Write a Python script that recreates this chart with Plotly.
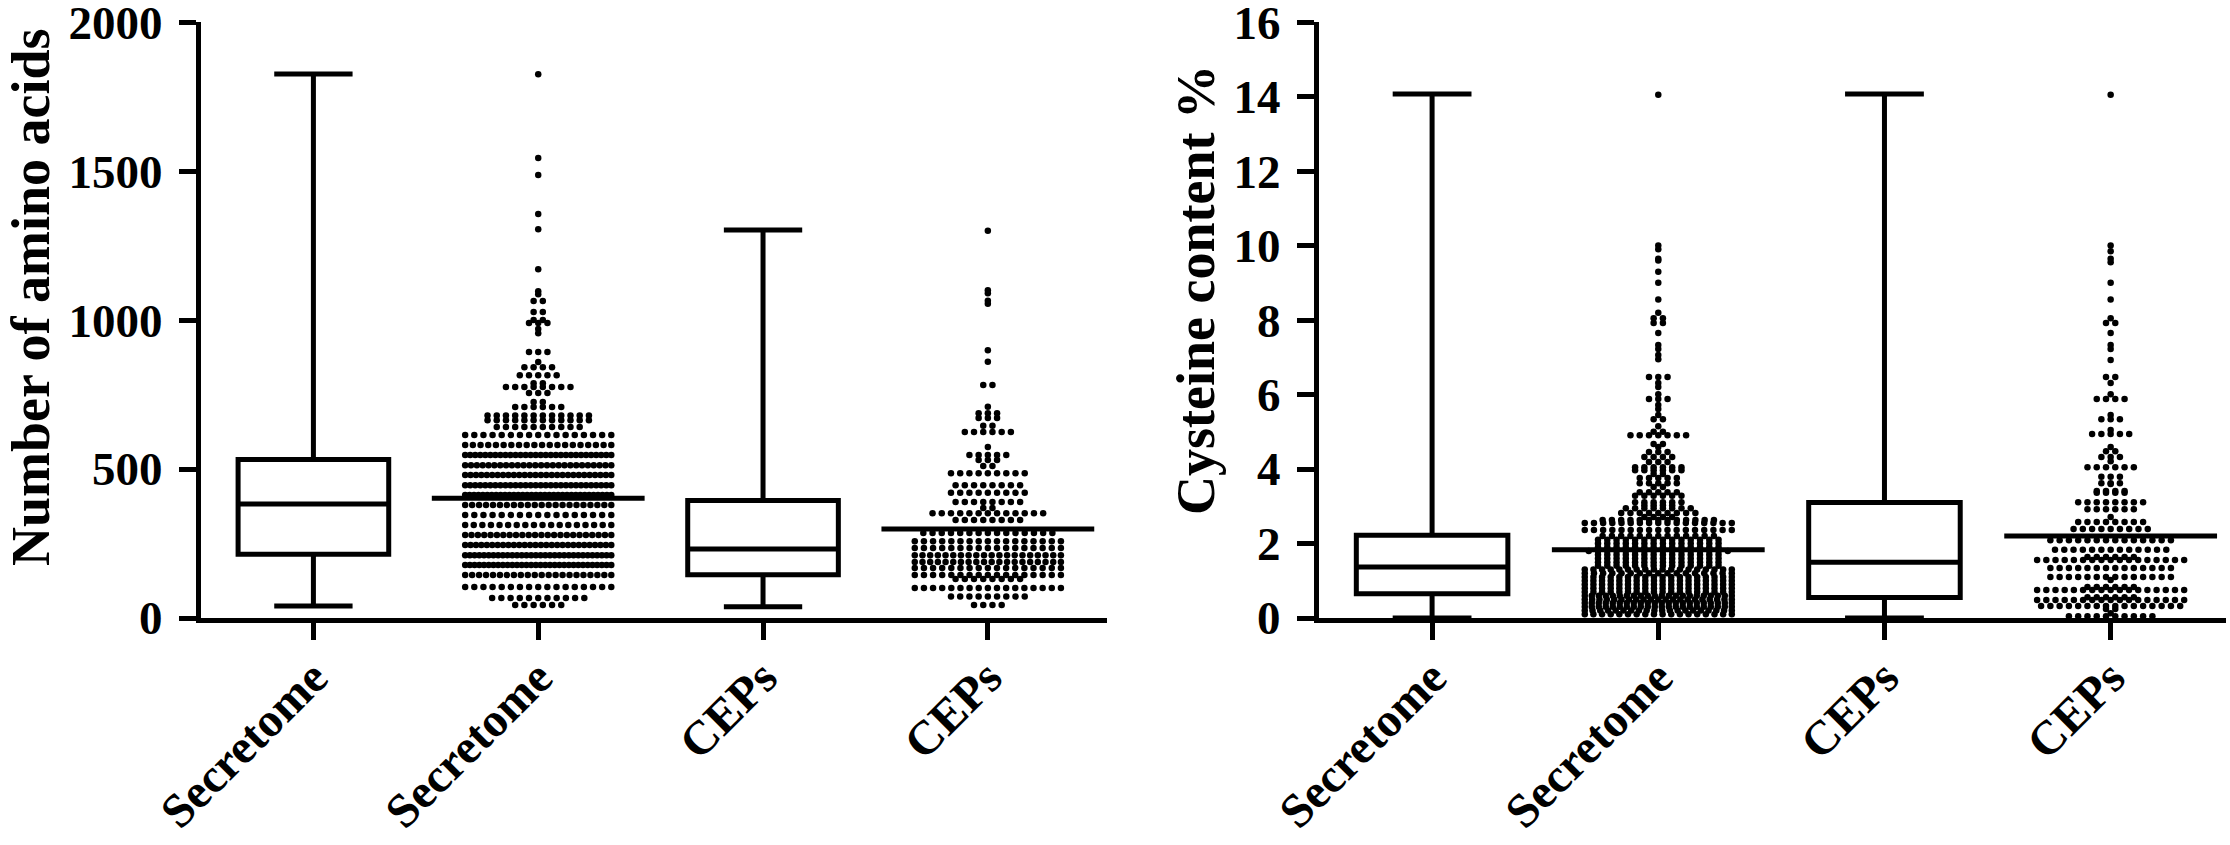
import plotly.graph_objects as go

W, H = 2230, 845

# category labels (same on both panels)
labels = ["Secretome", "Secretome", "CEPs", "CEPs"]

# --- left panel: number of amino acids ---
box_aa_q1 = [214, 145]
box_aa_median = [383, 232]
box_aa_q3 = [532, 394]
box_aa_low = [40, 38]
box_aa_high = [1826, 1302]

sec_aa_vals = [44, 67, 104, 144, 178, 211, 245, 279, 312, 346, 379, 413, 446, 480, 513, 547, 581, 614,
               641, 664, 680, 708, 725, 755, 775, 788, 815, 842, 859, 893, 956, 970, 990, 1000, 1027,
               1064, 1087, 1097, 1171, 1305, 1356, 1487, 1544, 1825]
sec_aa_counts = [6, 11, 17, 22, 32, 32, 28, 24, 18, 17, 22, 34, 30, 28, 26, 30, 20, 17,
                 10, 12, 12, 6, 2, 3, 8, 2, 5, 4, 1, 3, 1, 1, 3, 2, 2,
                 2, 1, 1, 1, 1, 1, 1, 1, 1]

cep_aa_vals = [44, 72, 101, 131, 144, 168, 188, 211, 235, 258, 285, 329, 352, 369, 389, 420, 446, 486,
               510, 530, 547, 574, 624, 645, 671, 687, 709, 782, 860, 899, 1055, 1065, 1090, 1100, 1300]
cep_aa_counts = [4, 9, 17, 8, 17, 17, 20, 20, 17, 17, 15, 8, 13, 2, 8, 9, 8, 9,
                 2, 3, 5, 1, 6, 2, 3, 3, 1, 2, 1, 1, 1, 1, 1, 1, 1]

mean_aa = [402, 299]

# --- right panel: cysteine content % ---
box_cys_q1 = [0.65, 0.55]
box_cys_median = [1.37, 1.50]
box_cys_q3 = [2.22, 3.10]
box_cys_low = [0, 0]
box_cys_high = [14.07, 14.07]

sec_cys_vals = [0.1, 0.2, 0.3, 0.4, 0.5, 0.6, 0.7, 0.8, 0.9, 1.0, 1.1, 1.2, 1.3, 1.4, 1.5, 1.6, 1.7,
                1.8, 1.9, 2.0, 2.1, 2.2, 2.36, 2.55, 2.63, 2.71, 2.82, 2.95, 3.03, 3.11, 3.28, 3.38,
                3.52, 3.62, 3.76, 3.87, 3.97, 4.05, 4.19, 4.32, 4.46, 4.59, 4.67, 4.91, 5.00, 5.15,
                5.34, 5.45, 5.61, 5.72, 5.88, 6.01, 6.20, 6.31, 6.47, 6.95, 7.06, 7.22, 7.33, 7.65,
                7.92, 8.05, 8.2, 8.55, 9.0, 9.3, 9.6, 9.65, 9.9, 10.0, 14.05]
sec_cys_counts = [18, 20, 22, 22, 21, 22, 18, 18, 18, 18, 18, 17, 18, 14, 14, 14, 14,
                  16, 14, 14, 14, 13, 17, 17, 13, 4, 9, 8, 4, 6, 6, 5,
                  2, 5, 5, 2, 6, 6, 3, 4, 3, 1, 2, 7, 2, 1,
                  2, 1, 1, 1, 3, 1, 1, 1, 3, 1, 1, 1, 1, 1,
                  2, 2, 1, 1, 1, 1, 1, 1, 1, 1, 1]

cep_cys_vals = [0.05, 0.13, 0.24, 0.32, 0.48, 0.56, 0.75, 0.83, 1.02, 1.10, 1.34, 1.56, 1.64, 1.83,
                2.09, 2.39, 2.58, 2.71, 2.92, 3.11, 3.36, 3.41, 3.60, 3.62, 3.79, 4.05, 4.21, 4.32,
                4.48, 4.59, 4.94, 5.05, 5.34, 5.45, 5.88, 6.01, 6.31, 6.47, 6.93, 7.22, 7.33, 7.65,
                7.92, 8.05, 8.55, 9.0, 9.55, 9.65, 9.85, 10.0, 14.05]
cep_cys_counts = [10, 1, 2, 16, 17, 6, 17, 6, 1, 14, 14, 17, 6, 13,
                  14, 9, 8, 1, 6, 8, 4, 4, 1, 3, 3, 6, 1, 3,
                  2, 1, 5, 1, 3, 1, 4, 1, 1, 2, 1, 1, 1, 1,
                  2, 1, 1, 1, 1, 1, 1, 1, 1]

mean_cys = [1.83, 2.20]

DOT_STEP = 0.041   # horizontal spacing of dots, category units
MAX_SPAN = 0.65    # widest a row of dots may get
FONT = "Liberation Serif"


def spread(center, vals, counts):
    # lay out each row of equal values side by side, like a column scatter plot
    xs, ys = [], []
    for v, n in zip(vals, counts):
        step = min(DOT_STEP, MAX_SPAN / max(n - 1, 1))
        for k in range(n):
            xs.append(center + (k - (n - 1) / 2) * step)
            ys.append(v)
    return xs, ys


fig = go.Figure()

panels = [
    ("x", "y", box_aa_q1, box_aa_median, box_aa_q3, box_aa_low, box_aa_high,
     [(sec_aa_vals, sec_aa_counts), (cep_aa_vals, cep_aa_counts)], mean_aa),
    ("x2", "y2", box_cys_q1, box_cys_median, box_cys_q3, box_cys_low, box_cys_high,
     [(sec_cys_vals, sec_cys_counts), (cep_cys_vals, cep_cys_counts)], mean_cys),
]

for xa, ya, q1, med, q3, lo, hi, dots, means in panels:
    fig.add_trace(go.Box(
        x=[0, 2], q1=q1, median=med, q3=q3, lowerfence=lo, upperfence=hi,
        width=0.67, whiskerwidth=0.52, boxpoints=False,
        line=dict(color="black", width=5), fillcolor="white",
        xaxis=xa, yaxis=ya, showlegend=False, hoverinfo="skip"))
    for center, (vals, counts) in zip([1, 3], dots):
        xs, ys = spread(center, vals, counts)
        fig.add_trace(go.Scatter(
            x=xs, y=ys, mode="markers",
            marker=dict(color="black", size=6.5, line=dict(width=0)),
            xaxis=xa, yaxis=ya, showlegend=False, hoverinfo="skip"))
    fig.add_trace(go.Scatter(
        x=[1, 3], y=means, mode="markers",
        marker=dict(symbol="line-ew", size=152, color="black",
                    line=dict(width=5, color="black")),
        xaxis=xa, yaxis=ya, showlegend=False, hoverinfo="skip"))

tickfont = dict(family=FONT, size=47, color="black", weight="bold")
common_x = dict(tickvals=[0, 1, 2, 3], ticktext=labels, tickangle=-45,
                tickfont=dict(family=FONT, size=48, color="black", weight="bold"),
                ticklabelstandoff=-10, automargin=False,
                showline=True, linewidth=5, linecolor="black",
                ticks="outside", ticklen=17, tickwidth=5, tickcolor="black",
                showgrid=False, zeroline=False, fixedrange=True)
common_y = dict(tickfont=tickfont, showline=True, linewidth=5, linecolor="black",
                ticks="outside", ticklen=17, tickwidth=5, tickcolor="black",
                ticklabelstandoff=7, ticklabeloverflow="allow", automargin=False,
                showgrid=False, zeroline=False)

y_dom = [1 - 618 / H, 1 - 22 / H]

fig.update_layout(
    width=W, height=H,
    margin=dict(l=0, r=0, t=0, b=0, autoexpand=False),
    paper_bgcolor="white", plot_bgcolor="white",
    font=dict(family=FONT, color="black"),
    xaxis=dict(domain=[201 / W, 1107 / W], range=[-0.5, 3.53], anchor="y", **common_x),
    yaxis=dict(domain=y_dom, range=[0, 2000.5], tickvals=[0, 500, 1000, 1500, 2000],
               anchor="x", **common_y),
    xaxis2=dict(domain=[1319 / W, 2226 / W], range=[-0.5, 3.51], anchor="y2", **common_x),
    yaxis2=dict(domain=y_dom, range=[0, 16.004], tickvals=[0, 2, 4, 6, 8, 10, 12, 14, 16],
                anchor="x2", **common_y),
    annotations=[
        dict(text="Number of amino acids", xref="paper", yref="paper",
             x=31 / W, y=1 - 297 / H, textangle=-90, showarrow=False,
             xanchor="center", yanchor="middle",
             font=dict(family=FONT, size=54, color="black", weight="bold")),
        dict(text="Cysteine content %", xref="paper", yref="paper",
             x=1196 / W, y=1 - 290 / H, textangle=-90, showarrow=False,
             xanchor="center", yanchor="middle",
             font=dict(family=FONT, size=54, color="black", weight="bold")),
    ],
)

# drop the browser's default page margin so the figure sits at the window corner
fig.write_html("out.html", config={"displayModeBar": False},
               post_script="document.body.style.margin='0px';")
